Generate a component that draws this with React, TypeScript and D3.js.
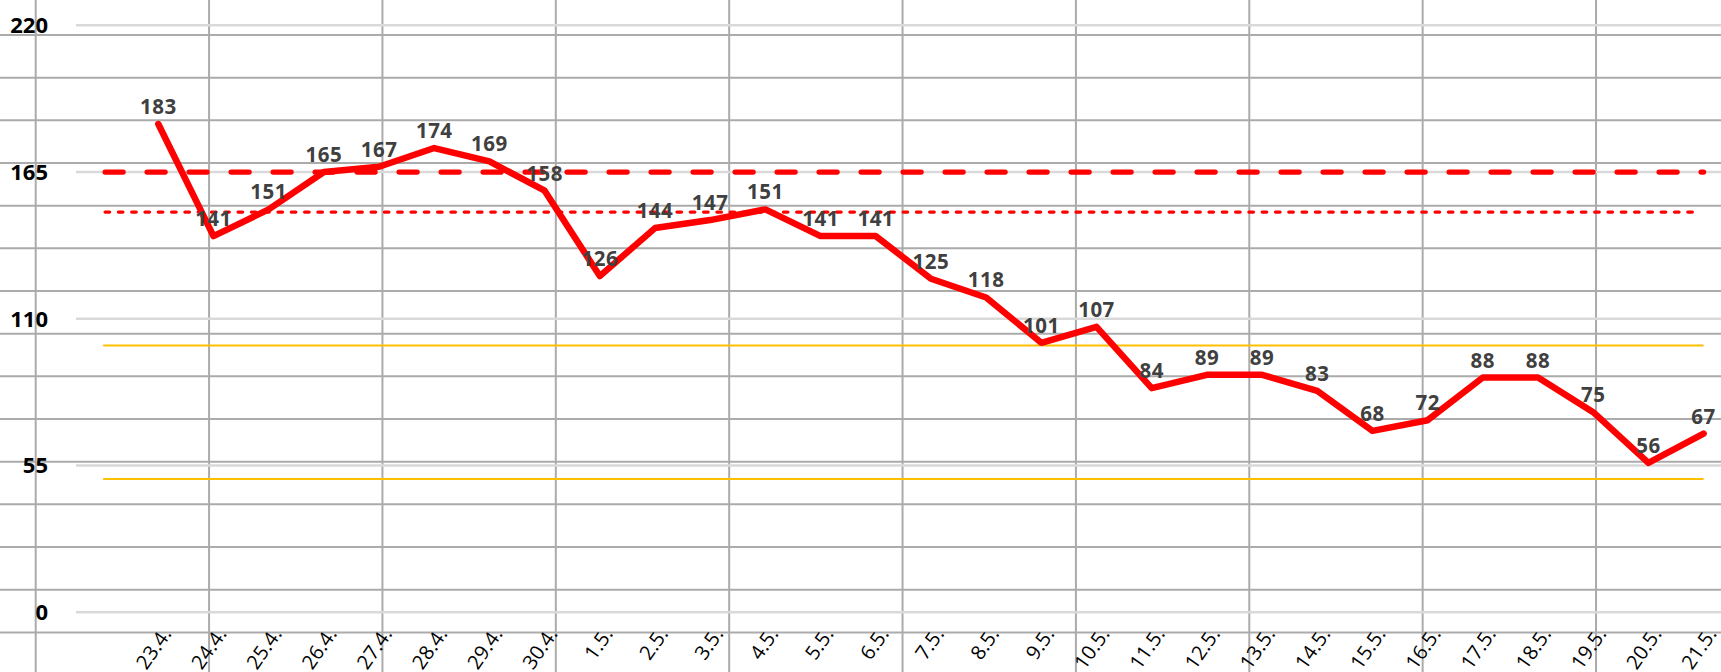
import { useEffect } from 'react';
import * as d3 from 'd3';

// categories (dates) and daily values
const dates = [
  '23.4.', '24.4.', '25.4.', '26.4.', '27.4.', '28.4.', '29.4.', '30.4.',
  '1.5.', '2.5.', '3.5.', '4.5.', '5.5.', '6.5.', '7.5.', '8.5.', '9.5.',
  '10.5.', '11.5.', '12.5.', '13.5.', '14.5.', '15.5.', '16.5.', '17.5.',
  '18.5.', '19.5.', '20.5.', '21.5.'
];
const values = [
  183, 141, 151, 165, 167, 174, 169, 158, 126, 144, 147, 151, 141, 141, 125,
  118, 101, 107, 84, 89, 89, 83, 68, 72, 88, 88, 75, 56, 67
];
const yTicks = [0, 55, 110, 165, 220];

// horizontal reference levels
const dashedLevel = [165];
const dottedLevel = [150];
const yellowLevels = [100, 50];

const W = 1721;
const H = 672;
const FONT = '"Open Sans", "Liberation Sans", sans-serif';

// spreadsheet cell grid behind the chart
const ROW_H = 42.67;
const COL_W = 173.37;

export default function App() {
  useEffect(() => {
    document.body.style.margin = '0';
  }, []);

  const y = d3.scaleLinear().domain([0, 220]).range([612.3, 25.3]);
  const x = d3.scalePoint<string>().domain(dates).range([158.3, 1703.6]);
  const step = x.step();
  const refX1 = x(dates[0])! - step;
  const refX2 = x(dates[dates.length - 1])!;

  const rows = d3.range(-1, 16).map(k => 35 + k * ROW_H);
  const cols = d3.range(0, 10).map(k => 35.7 + k * COL_W);

  const line = d3.line<number>()
    .x((_, i) => x(dates[i])!)
    .y(d => y(d));

  return (
    <svg width={W} height={H} style={{ position: 'absolute', left: 0, top: 0, background: '#fff' }}>
      {/* sheet grid */}
      <g stroke="#ababab" strokeWidth={2}>
        {rows.map((r, i) => <line key={'r' + i} x1={0} x2={W} y1={r} y2={r} />)}
        {cols.map((c, i) => <line key={'c' + i} x1={c} x2={c} y1={0} y2={H} />)}
      </g>

      {/* chart gridlines */}
      <g stroke="#d9d9d9" strokeWidth={2.5}>
        {yTicks.map(t => <line key={t} x1={76} x2={W} y1={y(t)} y2={y(t)} />)}
      </g>

      {/* y labels */}
      <g fontFamily={FONT} fontWeight={700} fontSize={22} fill="#000" textAnchor="end">
        {yTicks.map(t => (
          <text key={t} x={48} y={y(t)} dy="0.36em">{t}</text>
        ))}
      </g>

      {/* reference lines */}
      {yellowLevels.map(v => (
        <line key={v} x1={refX1} x2={refX2} y1={y(v)} y2={y(v)} stroke="#ffc000" strokeWidth={2} />
      ))}
      {dottedLevel.map(v => (
        <line key={v} x1={refX1 + 2} x2={refX2 - 6} y1={y(v)} y2={y(v)} stroke="#ff0000"
          strokeWidth={3.3} strokeDasharray="4.5 8.8" strokeLinecap="round" />
      ))}
      {dashedLevel.map(v => (
        <line key={v} x1={refX1 + 2} x2={refX2} y1={y(v)} y2={y(v)} stroke="#ff0000"
          strokeWidth={5.3} strokeDasharray="18 24" strokeLinecap="round" />
      ))}

      {/* main series */}
      <path d={line(values)!} fill="none" stroke="#ff0000" strokeWidth={6.5}
        strokeLinejoin="round" strokeLinecap="round" />

      {/* data labels */}
      <g fontFamily={FONT} fontWeight={700} fontSize={20.5} fill="#404040" textAnchor="middle" letterSpacing={0.5}>
        {values.map((v, i) => (
          <text key={i} x={x(dates[i])} y={y(v) - 10}>{v}</text>
        ))}
      </g>

      {/* x labels */}
      <g fontFamily={FONT} fontSize={20} fill="#000" textAnchor="end">
        {dates.map(d => (
          <text key={d} transform={`translate(${x(d)! + 14},634) rotate(-55)`}>{d}</text>
        ))}
      </g>
    </svg>
  );
}
